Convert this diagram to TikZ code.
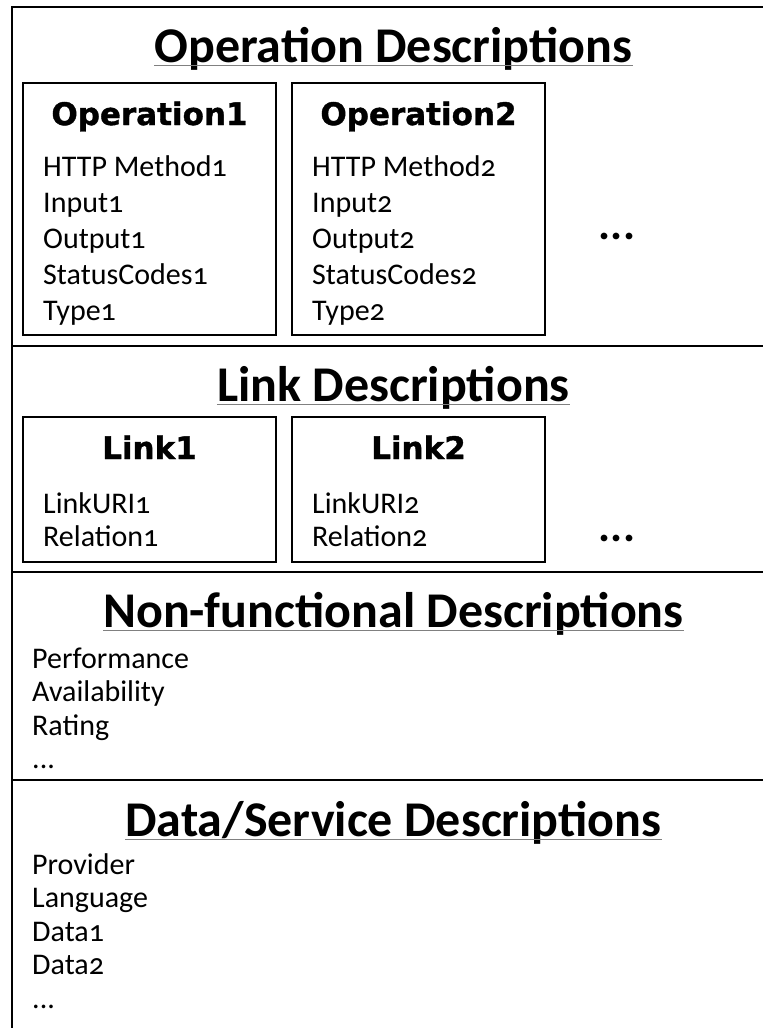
\documentclass[tikz,border=0pt]{standalone}
\usepackage{fontspec}
\setmainfont{Carlito}
\newfontfamily\itemfont[Numbers=OldStyle]{Carlito}
\newfontfamily\headfont[BoldFeatures={FakeBold=1.2}]{DejaVu Sans}
\usetikzlibrary{positioning}

\tikzset{
	sectitle/.style={font=\bfseries\fontsize{50}{60}\selectfont, inner sep=0pt, anchor=base},
	boxhead/.style={font=\headfont\bfseries\fontsize{31}{37}\selectfont, inner sep=0pt, anchor=base},
	item/.style={font=\itemfont\fontsize{30}{36}\selectfont, inner sep=0pt, anchor=base west},
	more/.style={font=\bfseries\fontsize{45}{54}\selectfont, inner sep=0pt, anchor=base},
	ulline/.style={gray, line width=0.9pt},
	frameline/.style={line width=1.6pt},
	descbox/.style={draw, line width=1.3pt}
}

\begin{document}
\begin{tikzpicture}[x=1pt, y=-1pt, text=black]
\useasboundingbox (0,0) rectangle (763,1028);
\def \boxoneleft {23}
\def \boxoneright {276}
\def \boxtwoleft {292}
\def \boxtworight {545}
\def \midx {393.5}

%Outer frame and section lines
\coordinate (frametop) at (12,7);
\coordinate (framebot) at (12,1028);
\coordinate (frameend) at (763,7);
\draw[frameline] (framebot) -- (frametop) -- (frameend);
\draw[frameline] (12,346) -- (763,346);
\draw[frameline] (12,572) -- (763,572);
\draw[frameline] (12,780) -- (763,780);

%Operation descriptions
\node[sectitle] (optitle) at (\midx,62) {Operation Descriptions};
\draw[ulline] ([yshift=-3pt]optitle.base west) -- ([yshift=-3pt]optitle.base east);
\draw[descbox] (\boxoneleft,83) rectangle (\boxoneright,335);
\draw[descbox] (\boxtwoleft,83) rectangle (\boxtworight,335);
\node[boxhead] (opone) at ({(\boxoneleft+\boxoneright)/2},125) {Operation1};
\node[boxhead] (optwo) at ({(\boxtwoleft+\boxtworight)/2},125) {Operation2};
\foreach \txt [count=\i from 0] in {HTTP Method1, Input1, Output1, StatusCodes1, Type1}
	\node[item] (opone-\i) at (43,{176+36*\i}) {\txt};
\foreach \txt [count=\i from 0] in {HTTP Method2, Input2, Output2, StatusCodes2, Type2}
	\node[item] (optwo-\i) at (312,{176+36*\i}) {\txt};
\node[more] (opmore) at (617,239) {...};

%Link descriptions
\node[sectitle] (linktitle) at (\midx,401) {Link Descriptions};
\draw[ulline] ([yshift=-3pt]linktitle.base west) -- ([yshift=-3pt]linktitle.base east);
\draw[descbox] (\boxoneleft,417) rectangle (\boxoneright,562);
\draw[descbox] (\boxtwoleft,417) rectangle (\boxtworight,562);
\node[boxhead] (linkone) at ({(\boxoneleft+\boxoneright)/2},459) {Link1};
\node[boxhead] (linktwo) at ({(\boxtwoleft+\boxtworight)/2},459) {Link2};
\node[item] (linkone-0) at (43,513) {LinkURI1};
\node[item] (linkone-1) at (43,546) {Relation1};
\node[item] (linktwo-0) at (312,513) {LinkURI2};
\node[item] (linktwo-1) at (312,546) {Relation2};
\node[more] (linkmore) at (617,541) {...};

%Non-functional descriptions
\node[sectitle] (nftitle) at (\midx,627) {Non-functional Descriptions};
\draw[ulline] ([yshift=-3pt]nftitle.base west) -- ([yshift=-3pt]nftitle.base east);
\foreach \txt [count=\i from 0] in {Performance, Availability, Rating}
	\node[item] (nf-\i) at (32,{668+33.5*\i}) {\txt};
\node[item] (nf-3) at (32,768.5) {...};

%Data/Service descriptions
\node[sectitle] (dstitle) at (\midx,836) {Data/Service Descriptions};
\draw[ulline] ([yshift=-3pt]dstitle.base west) -- ([yshift=-3pt]dstitle.base east);
\foreach \txt [count=\i from 0] in {Provider, Language, Data1, Data2}
	\node[item] (ds-\i) at (32,{874+33.5*\i}) {\txt};
\node[item] (ds-4) at (32,1008) {...};

\end{tikzpicture}
\end{document}
